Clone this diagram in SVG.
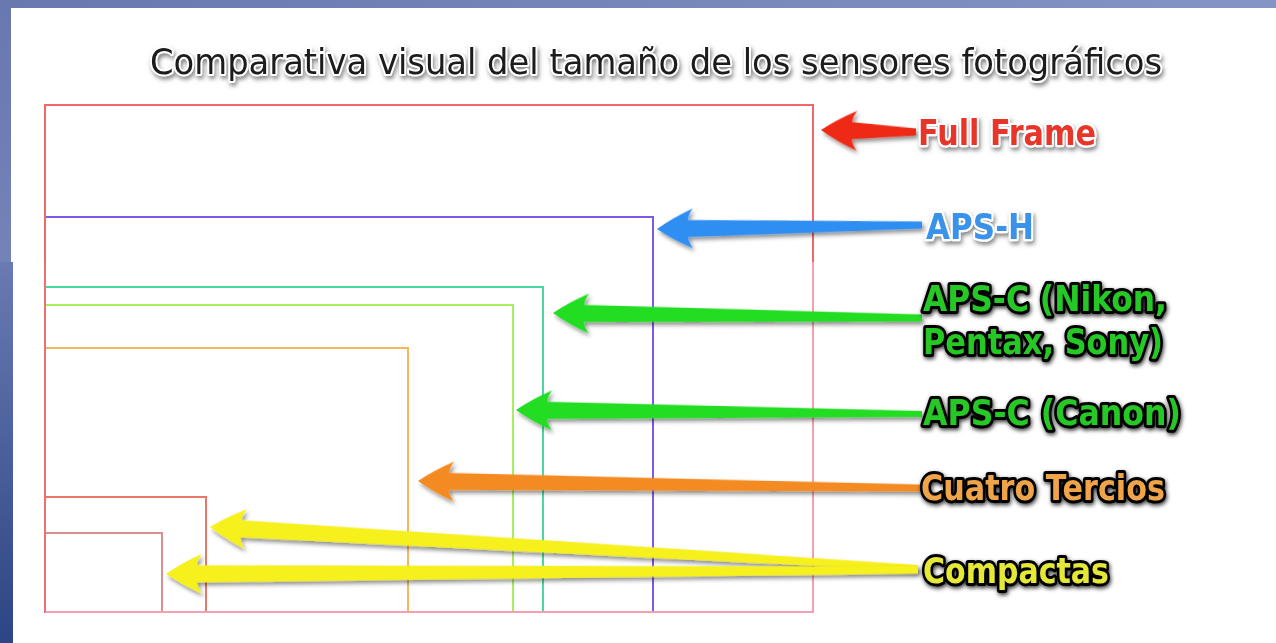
<svg xmlns="http://www.w3.org/2000/svg" width="1276" height="643" viewBox="0 0 1276 643">
  <defs>
    <linearGradient id="bg" x1="0" y1="0" x2="1" y2="1">
      <stop offset="0" stop-color="#6878b0"/>
      <stop offset="0.5" stop-color="#8494c4"/>
      <stop offset="1" stop-color="#2a4482"/>
    </linearGradient>
    <linearGradient id="bgleft" x1="0" y1="0" x2="0" y2="1">
      <stop offset="0" stop-color="#6a7ab2"/>
      <stop offset="1" stop-color="#2c4584"/>
    </linearGradient>
    <filter id="shadow" x="-10%" y="-30%" width="130%" height="180%">
      <feDropShadow dx="2" dy="3" stdDeviation="2" flood-color="#000" flood-opacity="0.45"/>
    </filter>
    <filter id="txtshadow" x="-5%" y="-30%" width="115%" height="180%">
      <feDropShadow dx="1.5" dy="3" stdDeviation="2" flood-color="#555" flood-opacity="0.7"/>
    </filter>
    <filter id="darkglow" x="-5%" y="-30%" width="115%" height="180%">
      <feDropShadow dx="1" dy="2" stdDeviation="2" flood-color="#000" flood-opacity="0.8"/>
    </filter>
  </defs>
  <style>
    .frame { fill: none; stroke-width: 2; }
    .title { font-family: "DejaVu Sans", Verdana, sans-serif; font-size: 36px; fill: #1a1a1a; stroke: #ffffff; stroke-width: 4; paint-order: stroke; stroke-linejoin: round; filter: url(#txtshadow); }
    .lbl { font-family: "DejaVu Sans", Verdana, sans-serif; font-size: 35px; paint-order: stroke; stroke-linejoin: round; }
    .light { stroke: #ffffff; stroke-width: 4.5; font-weight: bold; filter: url(#txtshadow); }
    .dark { stroke: #050505; stroke-width: 6; font-weight: bold; filter: url(#darkglow); }
    .arrow { filter: url(#shadow); }
  </style>

  <!-- background slide -->
  <rect x="0" y="0" width="1276" height="643" fill="url(#bg)"/>
  <rect x="0" y="262" width="13" height="381" fill="url(#bgleft)"/>
  <path d="M11,8 H1276 V643 H13 V262 H11 Z" fill="#ffffff"/>

  <text class="title" x="150" y="74" textLength="1012" lengthAdjust="spacingAndGlyphs">Comparativa visual del tamaño de los sensores fotográficos</text>

  <!-- sensor frames -->
  <g id="compacta-pequena"><rect class="frame" x="45" y="533" width="117" height="79" stroke="#d89090"/></g>
  <g id="compacta-grande"><rect class="frame" x="45" y="497" width="161" height="115" stroke="#e87868"/></g>
  <g id="cuatro-tercios"><rect class="frame" x="45" y="348" width="363" height="264" stroke="#f2b860"/></g>
  <g id="aps-c-canon"><rect class="frame" x="45" y="305" width="468" height="307" stroke="#a8ee60"/></g>
  <g id="aps-c-nikon"><rect class="frame" x="45" y="287" width="498" height="325" stroke="#48d8a0"/></g>
  <g id="aps-h"><rect class="frame" x="45" y="217" width="608" height="395" stroke="#8058e8"/></g>
  <g id="full-frame">
    <path class="frame" d="M45,612 V105 H813 V262" stroke="#f06868"/>
    <path class="frame" d="M813,262 V612 H45" stroke="#f4a0b0"/>
    <path class="frame" d="M45,262 V612" stroke="#f07070"/>
  </g>

  <!-- connectors -->
  <g id="connectors">
    <path class="arrow" fill="#ee2a12" transform="translate(821,130) rotate(1.2)" d="M0,0 Q16,-11 36,-20 Q31,-13 31,-8.5 L95,-3.5 L95,3.5 L31,8.5 Q31,13 36,20 Q16,11 0,0 Z"/>
    <path class="arrow" fill="#2e8ef2" transform="translate(657,229) rotate(-0.86)" d="M0,0 Q16,-11 36,-20 Q31,-13 31,-8.5 L265,-3.5 L265,3.5 L31,8.5 Q31,13 36,20 Q16,11 0,0 Z"/>
    <path class="arrow" fill="#22dd22" transform="translate(553,313) rotate(0.78)" d="M0,0 Q16,-11 36,-20 Q31,-13 31,-8.5 L369,-3.5 L369,3.5 L31,8.5 Q31,13 36,20 Q16,11 0,0 Z"/>
    <path class="arrow" fill="#22dd22" transform="translate(516,410) rotate(0.56)" d="M0,0 Q16,-11 36,-20 Q31,-13 31,-8.5 L406,-3 L406,3 L31,8.5 Q31,13 36,20 Q16,11 0,0 Z"/>
    <path class="arrow" fill="#f48a22" transform="translate(418,481) rotate(0.8)" d="M0,0 Q16,-11 36,-20 Q31,-13 31,-8.5 L502,-3.5 L502,3.5 L31,8.5 Q31,13 36,20 Q16,11 0,0 Z"/>
    <path class="arrow" fill="#f6f01e" transform="translate(210,527) rotate(3.31)" d="M0,0 Q16,-11 36,-20 Q31,-13 31,-8.5 L709,-3 L709,3 L31,8.5 Q31,13 36,20 Q16,11 0,0 Z"/>
    <path class="arrow" fill="#f6f01e" transform="translate(166,574) rotate(-0.3)" d="M0,0 Q16,-11 36,-20 Q31,-13 31,-8.5 L752,-3.5 L752,3.5 L31,8.5 Q31,13 36,20 Q16,11 0,0 Z"/>
  </g>

  <!-- labels -->
  <g id="label-full-frame"><text class="lbl light" x="918" y="145" fill="#e8342a" textLength="178" lengthAdjust="spacingAndGlyphs">Full Frame</text></g>
  <g id="label-aps-h"><text class="lbl light" x="926" y="239" fill="#3a92ea" textLength="108" lengthAdjust="spacingAndGlyphs">APS-H</text></g>
  <g id="label-aps-c-nikon">
    <text class="lbl dark" x="923" y="311" fill="#28c828" textLength="244" lengthAdjust="spacingAndGlyphs">APS-C (Nikon,</text>
    <text class="lbl dark" x="923" y="354" fill="#28c828" textLength="240" lengthAdjust="spacingAndGlyphs">Pentax, Sony)</text>
  </g>
  <g id="label-aps-c-canon"><text class="lbl dark" x="923" y="425" fill="#28c828" textLength="258" lengthAdjust="spacingAndGlyphs">APS-C (Canon)</text></g>
  <g id="label-cuatro-tercios"><text class="lbl dark" x="921" y="500" fill="#f0a448" textLength="244" lengthAdjust="spacingAndGlyphs">Cuatro Tercios</text></g>
  <g id="label-compactas"><text class="lbl dark" x="923" y="583" fill="#e6e838" textLength="186" lengthAdjust="spacingAndGlyphs">Compactas</text></g>
</svg>
